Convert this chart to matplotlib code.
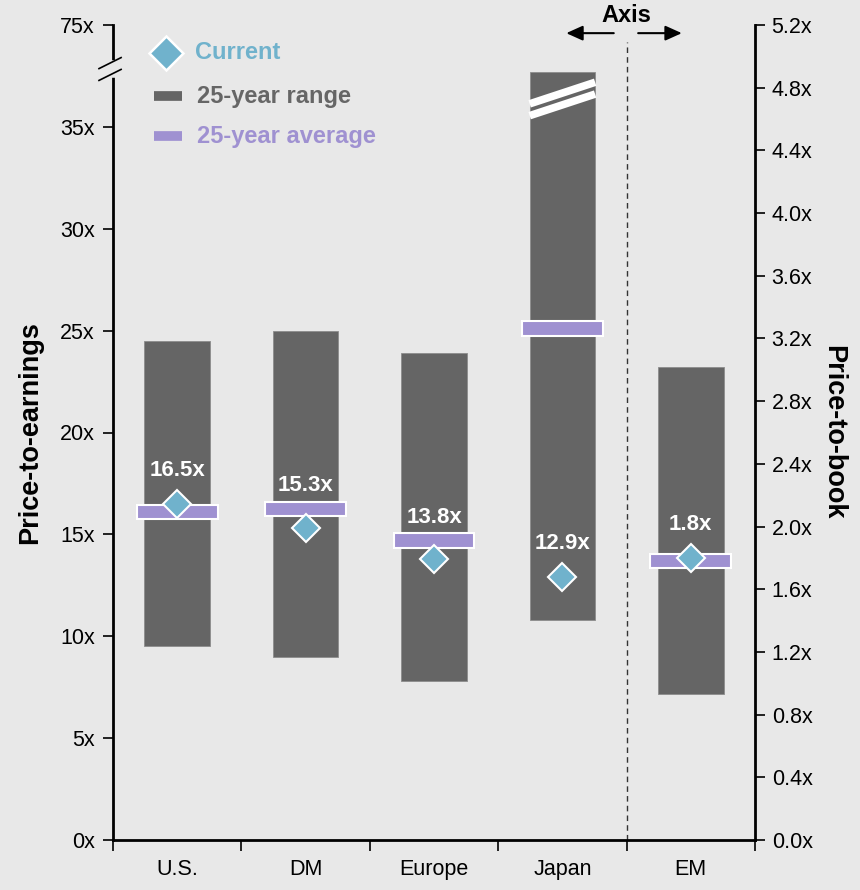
import numpy as np
import matplotlib.pyplot as plt
from matplotlib.lines import Line2D

plt.rcParams['font.family'] = ['Liberation Sans', 'DejaVu Sans']

# data (P/E for first four, P/B for EM)
categories = ["U.S.", "DM", "Europe", "Japan", "EM"]
pe_low = [9.5, 9.0, 7.8, 10.8]
pe_high = [24.5, 25.0, 23.9, 37.7]  # Japan range cut at the axis break
pe_avg = [16.1, 16.25, 14.7, 25.1]
pe_current = [16.5, 15.3, 13.8, 12.9]

pb_low = [0.93]
pb_high = [3.02]
pb_avg = [1.78]
pb_current = [1.8]

left_ticks = [0, 5, 10, 15, 20, 25, 30, 35, 40]
left_ticklabels = ["0x", "5x", "10x", "15x", "20x", "25x", "30x", "35x", "75x"]
right_ticks = [0.0, 0.4, 0.8, 1.2, 1.6, 2.0, 2.4, 2.8, 3.2, 3.6, 4.0, 4.4, 4.8, 5.2]

bg = "#e8e8e8"
bar_col = "#656565"
avg_col = "#9f91d1"
cur_col = "#70b2cc"

fig = plt.figure(figsize=(8.6, 8.9), dpi=100, facecolor=bg)
ax = fig.add_axes([113 / 860, 50 / 890, 642 / 860, 815 / 890])
ax.set_facecolor(bg)
ax2 = ax.twinx()

ax.set_xlim(0.5, 5.5)
ax.set_ylim(0, 40)
ax2.set_ylim(0, 5.2)
k = 5.2 / 40  # right units per left unit

x_pe = np.arange(1, 5)
x_pb = np.array([5])

# ranges
ax.bar(x_pe, np.array(pe_high) - np.array(pe_low), bottom=pe_low, width=0.51,
       color=bar_col, edgecolor="#8c8c8c", linewidth=0.6, zorder=2)
ax2.bar(x_pb, np.array(pb_high) - np.array(pb_low), bottom=pb_low, width=0.51,
        color=bar_col, edgecolor="#8c8c8c", linewidth=0.6, zorder=2)

# break marks on Japan bar
jx = x_pe[3]
for off in [0.0, -0.58]:
    ax.plot([jx - 0.255, jx + 0.255], [36.13 + off, 37.19 + off], color="white",
            lw=5.5, solid_capstyle="butt", zorder=3)

# averages
h_pe = 0.7
ax.bar(x_pe, h_pe, bottom=np.array(pe_avg) - h_pe / 2, width=0.63, color=avg_col,
       edgecolor="white", linewidth=1.5, zorder=4)
ax2.bar(x_pb, h_pe * k, bottom=np.array(pb_avg) - h_pe * k / 2, width=0.63, color=avg_col,
        edgecolor="white", linewidth=1.5, zorder=4)

# current
ax.plot(x_pe, pe_current, "D", ms=14, color=cur_col, mec="white", mew=1.5, zorder=5)
ax2.plot(x_pb, pb_current, "D", ms=14, color=cur_col, mec="white", mew=1.5, zorder=5)


# value label sits above the diamond, or above the average bar if that is in the way
def label_y(c, a):
    y = c + 1.65
    if c < a < y + 0.5:
        y = a + 1.15
    return y


for xi, c, a in zip(x_pe, pe_current, pe_avg):
    ax.text(xi, label_y(c, a), f"{c:.1f}x", color="white", fontsize=16,
            fontweight="bold", ha="center", va="center", zorder=6)
for xi, c, a in zip(x_pb, pb_current, pb_avg):
    ax2.text(xi, label_y(c / k, a / k) * k, f"{c:.1f}x", color="white", fontsize=16,
             fontweight="bold", ha="center", va="center", zorder=6)

# axes styling
for a in (ax, ax2):
    a.spines["top"].set_visible(False)
    for s in ["left", "right", "bottom"]:
        a.spines[s].set_linewidth(2)
ax.spines["right"].set_visible(False)
ax2.spines["left"].set_visible(False)
ax2.spines["bottom"].set_visible(False)

ax.set_yticks(left_ticks)
ax.set_yticklabels(left_ticklabels, fontsize=15.5)
ax2.set_yticks(right_ticks)
ax2.set_yticklabels([f"{v:.1f}x" for v in right_ticks], fontsize=15.5)
ax.tick_params(axis="y", direction="out", length=7, width=1.2, pad=6)
ax2.tick_params(axis="y", direction="out", length=7, width=1.2, pad=5)

ax.set_xticks(np.arange(1, 6))
ax.set_xticklabels(categories, fontsize=15.5)
ax.set_xticks(np.arange(0.5, 6.0, 1.0), minor=True)
ax.tick_params(axis="x", which="major", length=0, pad=14)
ax.tick_params(axis="x", which="minor", direction="out", length=8, width=1.2)

ax.set_ylabel("Price-to-earnings", fontsize=19.5, fontweight="bold", labelpad=12)
ax2.set_ylabel("Price-to-book", fontsize=19.5, fontweight="bold", rotation=-90, labelpad=24)

# axis break on the left spine
ax.plot([0.5, 0.5], [37.55, 38.13], color=bg, lw=4, clip_on=False, zorder=6)
for yb in [38.13, 37.55]:
    ax.plot([0.477 - 0.086, 0.477 + 0.086], [yb - 0.27, yb + 0.27], color="black", lw=1.2,
            clip_on=False, zorder=7)

# divider between P/E and P/B groups
ax.axvline(4.5, ymin=0, ymax=1.0 - 17 / 815, color="#333333", lw=1, ls=(0, (4, 3)), zorder=1)
ax.text(4.5, 40.45, "Axis", fontsize=17, fontweight="bold", ha="center", va="center")
arrow = dict(arrowstyle="-|>,head_length=1.0,head_width=0.45", color="black", lw=1.5,
             shrinkA=0, shrinkB=0)
ax.annotate("", xy=(4.03, 39.6), xytext=(4.4, 39.6), arrowprops=arrow, annotation_clip=False)
ax.annotate("", xy=(4.93, 39.6), xytext=(4.59, 39.6), arrowprops=arrow, annotation_clip=False)

# legend drawn by hand
ax.add_line(Line2D([0.913], [38.63], marker="D", ms=17, color=cur_col, mec="white", mew=1.8,
                   linestyle="none", zorder=7))
ax.plot([0.82, 1.04], [36.5, 36.5], color=bar_col, lw=7, solid_capstyle="butt")
ax.plot([0.82, 1.04], [34.55, 34.55], color=avg_col, lw=7, solid_capstyle="butt")
ax.text(1.14, 38.63, "Current", color=cur_col, fontsize=17, fontweight="bold", va="center")
ax.text(1.155, 36.5, "25-year range", color="#666666", fontsize=17, fontweight="bold", va="center")
ax.text(1.155, 34.55, "25-year average", color=avg_col, fontsize=17, fontweight="bold", va="center")

fig.savefig("out.png", dpi=100, facecolor=bg)
